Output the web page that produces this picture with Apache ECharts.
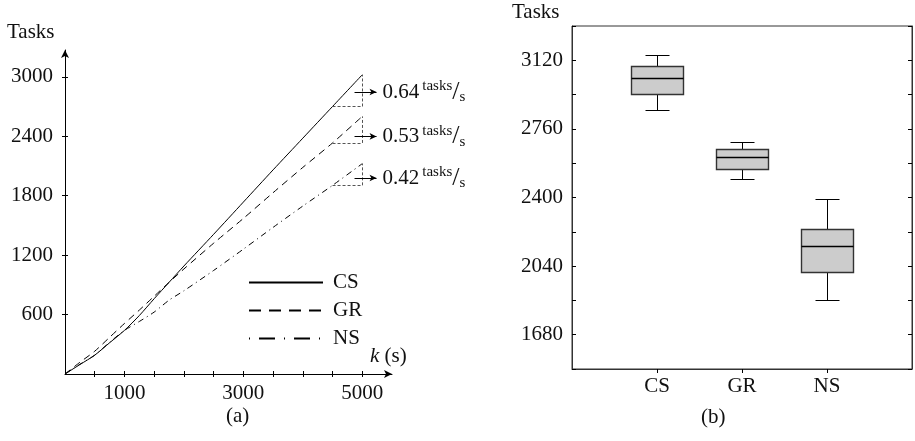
<!DOCTYPE html>
<html>
<head>
<meta charset="utf-8">
<script src="https://cdn.jsdelivr.net/npm/echarts@6/dist/echarts.min.js"></script>
<style>
  html, body { margin: 0; padding: 0; background: #fff; }
  #chart { width: 915px; height: 441px; }
</style>
</head>
<body>
<div id="chart"></div>
<script>
// (a) cumulative tasks over time
const kValues = [0, 250, 500, 750, 1000, 1250, 1500, 1750, 2000, 2500, 3000, 3500, 4000, 4500, 5000];
const csTasks = [0, 95, 190, 315, 440, 590, 760, 925, 1090, 1410, 1735, 2060, 2380, 2700, 3020];
const grTasks = [0, 118, 230, 370, 510, 645, 785, 925, 1060, 1320, 1570, 1830, 2085, 2332, 2600];
const nsTasks = [0, 98, 190, 320, 440, 530, 625, 745, 840, 1045, 1260, 1480, 1695, 1904, 2123];
const throughput = ['0.64', '0.53', '0.42'];
const arrowLevels = [2846, 2398, 1978];
const yTicksA = [600, 1200, 1800, 2400, 3000];
const xTicksA = [500, 1000, 1500, 2000, 2500, 3000, 3500, 4000, 4500, 5000];
const xLabelsA = [1000, 3000, 5000];

// (b) box plot per method
const methods = ['CS', 'GR', 'NS'];
const whiskerLow = [2857, 2498, 1863];
const quartile1 = [2941, 2550, 2010];
const medians = [3026, 2612, 2146];
const quartile3 = [3090, 2654, 2237];
const whiskerHigh = [3150, 2692, 2390];
const yLabelsB = [1680, 2040, 2400, 2760, 3120];

const FONT = '"Liberation Serif", "DejaVu Serif", serif';
const INK = '#111';

const chart = echarts.init(document.getElementById('chart'));

const pairs = vals => kValues.map((k, i) => [k, vals[i]]);

// dotted slope triangle + arrow with throughput label
function slopeMarks(vals, i) {
  const a = vals[kValues.indexOf(4500)];
  const b = vals[kValues.indexOf(5000)];
  return {
    silent: true,
    animation: false,
    symbol: 'none',
    lineStyle: { type: [3, 2], color: '#555', width: 1 },
    label: { show: false },
    emphasis: { disabled: true },
    data: [
      [{ coord: [4500, a] }, { coord: [5000, a] }],
      [{ coord: [5000, a] }, { coord: [5000, b] }],
      [
        { coord: [4870, arrowLevels[i]], symbol: 'none', lineStyle: { type: 'solid', color: '#000', width: 1 } },
        {
          coord: [5240, arrowLevels[i]], symbol: 'arrow', symbolSize: [5, 7],
          label: {
            show: true, position: 'end', distance: 6, color: INK,
            formatter: '{n|' + throughput[i] + '} {u|tasks}{s|/}{d|s}',
            rich: {
              n: { fontFamily: FONT, fontSize: 21, color: INK },
              u: { fontFamily: FONT, fontSize: 15, color: INK, verticalAlign: 'top' },
              s: { fontFamily: FONT, fontSize: 26, color: INK },
              d: { fontFamily: FONT, fontSize: 15, color: INK, verticalAlign: 'bottom' }
            }
          }
        }
      ]
    ]
  };
}

const lineSeries = (name, vals, type, i) => ({
  name: name,
  type: 'line',
  xAxisIndex: 0,
  yAxisIndex: 0,
  data: pairs(vals),
  symbol: 'none',
  smooth: 0.25,
  lineStyle: { color: '#000', width: 1, type: type },
  itemStyle: { color: '#000' },
  markLine: slopeMarks(vals, i)
});

const boxData = methods.map((m, i) => [i + 1, whiskerLow[i], quartile1[i], medians[i], quartile3[i], whiskerHigh[i]]);

function renderBox(params, api) {
  const idx = api.value(0);
  const x = Math.round(api.coord([idx, 0])[0]) + 0.5;
  const y = v => Math.round(api.coord([idx, api.value(v)])[1]) + 0.5;
  const lo = y(1), q1 = y(2), md = y(3), q3 = y(4), hi = y(5);
  const bw = 26, cw = 12;
  const ln = (x1, y1, x2, y2, w) => ({
    type: 'line', shape: { x1, y1, x2, y2 },
    style: { stroke: '#000', lineWidth: w || 1 }
  });
  return {
    type: 'group',
    children: [
      ln(x, hi, x, q3), ln(x, q1, x, lo),
      ln(x - cw, hi, x + cw, hi), ln(x - cw, lo, x + cw, lo),
      { type: 'rect', shape: { x: x - bw, y: q3, width: bw * 2, height: q1 - q3 },
        style: { fill: '#cccccc', stroke: '#333', lineWidth: 1.4 } },
      ln(x - bw, md, x + bw, md, 1.4)
    ]
  };
}

const axisText = { fontFamily: FONT, fontSize: 21, color: INK };
const plainLine = { lineStyle: { color: '#000', width: 1 } };
const plain = v => String(v);
const noMarker = { opacity: 0, borderWidth: 0 };

chart.setOption({
  animation: false,
  textStyle: { fontFamily: FONT },
  grid: [
    { left: 65, top: 50, width: 327, height: 324 },
    { left: 572, top: 26, width: 342, height: 343, show: true, borderColor: '#333', borderWidth: 1 }
  ],
  legend: {
    left: 243, top: 267, orient: 'vertical',
    itemWidth: 74, itemHeight: 20, itemGap: 7,
    selectedMode: false,
    textStyle: { fontFamily: FONT, fontSize: 21, color: INK, padding: [0, 0, 0, 5] },
    data: [
      { name: 'CS', itemStyle: noMarker, lineStyle: { width: 2, type: 'solid' } },
      { name: 'GR', itemStyle: noMarker, lineStyle: { width: 2, type: [12, 8] } },
      { name: 'NS', itemStyle: noMarker, lineStyle: { width: 2, type: [1, 9, 16, 9] } }
    ]
  },
  xAxis: [
    {
      gridIndex: 0, type: 'value', min: 0, max: 5500, position: 'bottom',
      axisLine: { show: true, symbol: ['none', 'arrow'], symbolSize: [6, 8], lineStyle: { color: '#000', width: 1 } },
      axisTick: { show: true, inside: false, length: 3, customValues: xTicksA, ...plainLine },
      axisLabel: { ...axisText, margin: 9, customValues: xLabelsA, formatter: plain },
      splitLine: { show: false }
    },
    {
      gridIndex: 0, type: 'value', min: 0, max: 5500, position: 'bottom',
      axisLine: { show: false },
      axisTick: { show: true, inside: true, length: 3, customValues: xTicksA, ...plainLine },
      axisLabel: { show: false },
      splitLine: { show: false }
    },
    {
      gridIndex: 1, type: 'category', data: ['', ...methods, ''], boundaryGap: false,
      axisLine: { show: true, lineStyle: { color: '#333', width: 1 } },
      axisTick: { show: true, length: 4, interval: i => i > 0 && i <= methods.length, lineStyle: { color: '#000' } },
      axisLabel: { ...axisText, margin: 7, interval: 0 },
      splitLine: { show: false }
    }
  ],
  yAxis: [
    {
      gridIndex: 0, type: 'value', min: 0, max: 3270, position: 'left',
      axisLine: { show: true, symbol: ['none', 'arrow'], symbolSize: [6, 8], lineStyle: { color: '#000', width: 1 } },
      axisTick: { show: true, inside: false, length: 3, customValues: yTicksA, ...plainLine },
      axisLabel: { ...axisText, margin: 12, customValues: yTicksA, formatter: plain },
      splitLine: { show: false }
    },
    {
      gridIndex: 0, type: 'value', min: 0, max: 3270, position: 'left',
      axisLine: { show: false },
      axisTick: { show: true, inside: true, length: 3, customValues: yTicksA, ...plainLine },
      axisLabel: { show: false },
      splitLine: { show: false }
    },
    {
      gridIndex: 1, type: 'value', min: 1500, max: 3300, interval: 180, position: 'left',
      axisLine: { show: true, lineStyle: { color: '#333', width: 1 } },
      axisTick: { show: true, inside: true, length: 4, ...plainLine },
      axisLabel: { ...axisText, margin: 9, formatter: v => yLabelsB.includes(v) ? String(v) : '' },
      splitLine: { show: false }
    },
    {
      gridIndex: 1, type: 'value', min: 1500, max: 3300, interval: 180, position: 'right',
      axisLine: { show: true, lineStyle: { color: '#333', width: 1 } },
      axisTick: { show: true, inside: true, length: 4, ...plainLine },
      axisLabel: { show: false },
      splitLine: { show: false }
    }
  ],
  graphic: [
    { type: 'text', left: 7, top: 22, style: { text: 'Tasks', font: '21px ' + FONT, fill: INK } },
    { type: 'text', left: 512, top: 2, style: { text: 'Tasks', font: '21px ' + FONT, fill: INK } },
    { type: 'text', left: 370, top: 346, style: {
        text: '{i|k} (s)', font: '21px ' + FONT, fill: INK,
        rich: { i: { fontFamily: FONT, fontSize: 21, fontStyle: 'italic', fill: INK } } } },
    { type: 'text', left: 226, top: 406, style: { text: '(a)', font: '21px ' + FONT, fill: INK } },
    { type: 'text', left: 701, top: 407, style: { text: '(b)', font: '21px ' + FONT, fill: INK } }
  ],
  series: [
    lineSeries('CS', csTasks, 'solid', 0),
    lineSeries('GR', grTasks, [7, 5], 1),
    lineSeries('NS', nsTasks, [6, 4, 1, 4], 2),
    {
      name: 'box',
      type: 'custom',
      xAxisIndex: 2,
      yAxisIndex: 2,
      data: boxData,
      encode: { x: 0, y: [1, 2, 3, 4, 5] },
      renderItem: renderBox,
      silent: true
    }
  ]
});
</script>
</body>
</html>
